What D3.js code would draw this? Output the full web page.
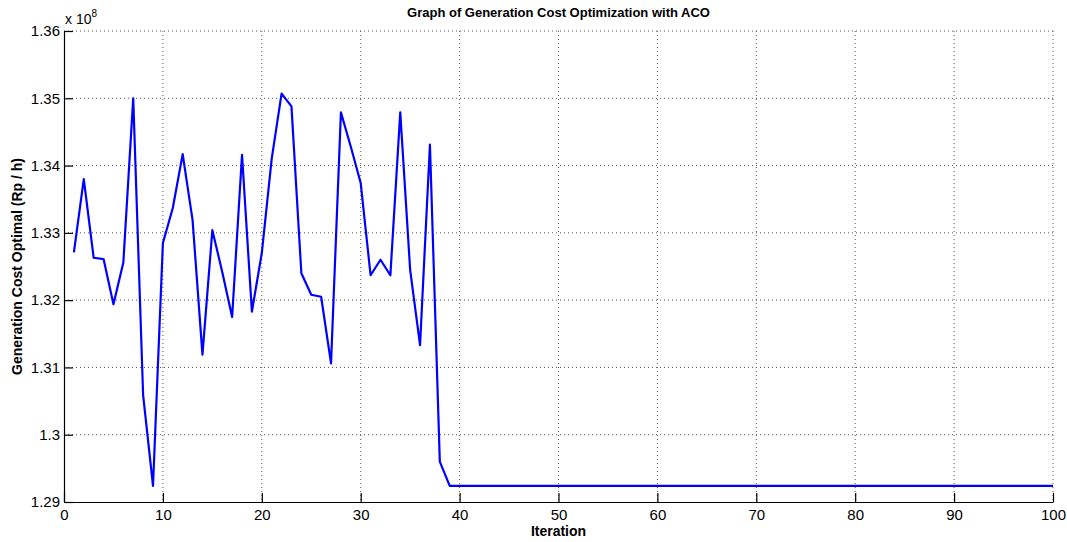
<!DOCTYPE html>
<html>
<head>
<meta charset="utf-8">
<script src="https://cdn.jsdelivr.net/npm/d3@7"></script>
<style>
  body { margin: 0; background: #fff; }
  text { font-family: "Liberation Sans", Arial, sans-serif; }
</style>
</head>
<body>
<div id="chart"></div>
<script>
// cost values in units of 1e8 Rp/h
const firstCosts = [1.3271, 1.3380, 1.3263, 1.3261, 1.3194, 1.3256, 1.3500, 1.3059, 1.2924, 1.3285,
  1.3337, 1.3417, 1.3319, 1.3119, 1.3304, 1.3242, 1.3175, 1.3416, 1.3183, 1.3270,
  1.3410, 1.3507, 1.3488, 1.3240, 1.3208, 1.3205, 1.3106, 1.3479, 1.3428, 1.3374,
  1.3237, 1.3260, 1.3237, 1.3479, 1.3245, 1.3133, 1.3431, 1.2960, 1.2924];
const finalCost = 1.2924;
const iterations = d3.range(1, 101);
const costs = iterations.map(i => i <= firstCosts.length ? firstCosts[i - 1] : finalCost);
const xTicks = [0, 10, 20, 30, 40, 50, 60, 70, 80, 90, 100];
const yTicks = [1.29, 1.30, 1.31, 1.32, 1.33, 1.34, 1.35, 1.36];

const W = 1067, H = 542;
const margin = {top: 31, right: 14, bottom: 40, left: 64};
const width = W - margin.left - margin.right;
const height = H - margin.top - margin.bottom;

const svg = d3.select("#chart").append("svg")
    .attr("width", W)
    .attr("height", H);

const g = svg.append("g")
    .attr("transform", `translate(${margin.left},${margin.top})`);

const x = d3.scaleLinear().domain([0, 100]).range([0, width]);
const y = d3.scaleLinear().domain([1.29, 1.36]).range([height, 0]);

// grid
g.append("g").selectAll("line")
    .data(xTicks.slice(1))
    .join("line")
    .attr("x1", d => x(d)).attr("x2", d => x(d))
    .attr("y1", 0).attr("y2", height)
    .attr("stroke", "#555")
    .attr("stroke-width", 1)
    .attr("stroke-dasharray", "1,3");

g.append("g").selectAll("line")
    .data(yTicks.slice(1))
    .join("line")
    .attr("x1", 0).attr("x2", width)
    .attr("y1", d => y(d)).attr("y2", d => y(d))
    .attr("stroke", "#555")
    .attr("stroke-width", 1)
    .attr("stroke-dasharray", "1,3");

// axes with inward ticks
const xAxis = g.append("g")
    .attr("transform", `translate(0,${height})`)
    .call(d3.axisBottom(x).tickValues(xTicks).tickSizeInner(-9).tickSizeOuter(0).tickPadding(7));
const yAxis = g.append("g")
    .call(d3.axisLeft(y).tickValues(yTicks).tickFormat(d3.format("~g")).tickSizeInner(-9).tickSizeOuter(0).tickPadding(4));

[xAxis, yAxis].forEach(a => {
    a.select(".domain").attr("stroke", "#000").attr("stroke-width", 1.2);
    a.selectAll(".tick line").attr("stroke", "#000").attr("stroke-width", 1.2);
    a.selectAll(".tick text")
        .attr("fill", "#000")
        .style("font-size", "15px")
        .style("font-family", "'Liberation Sans', Arial, sans-serif");
});

// line
g.append("path")
    .datum(iterations)
    .attr("fill", "none")
    .attr("stroke", "#0000ff")
    .attr("stroke-width", 2.2)
    .attr("stroke-linejoin", "round")
    .attr("d", d3.line().x(d => x(d)).y((d, i) => y(costs[i])));

// title and labels
svg.append("text")
    .attr("x", margin.left + width / 2)
    .attr("y", 17)
    .attr("text-anchor", "middle")
    .style("font-size", "13px")
    .style("font-weight", "bold")
    .text("Graph of Generation Cost Optimization with ACO");

svg.append("text")
    .attr("x", margin.left + width / 2)
    .attr("y", 536)
    .attr("text-anchor", "middle")
    .style("font-size", "14px")
    .style("font-weight", "bold")
    .text("Iteration");

svg.append("text")
    .attr("transform", `translate(22,${margin.top + height / 2}) rotate(-90)`)
    .attr("text-anchor", "middle")
    .style("font-size", "14px")
    .style("font-weight", "bold")
    .text("Generation Cost Optimal (Rp / h)");

const expo = svg.append("text")
    .attr("x", 65)
    .attr("y", 24)
    .style("font-size", "14px");
expo.append("tspan").text("x 10");
expo.append("tspan").attr("dy", -7).style("font-size", "10px").text("8");
</script>
</body>
</html>
